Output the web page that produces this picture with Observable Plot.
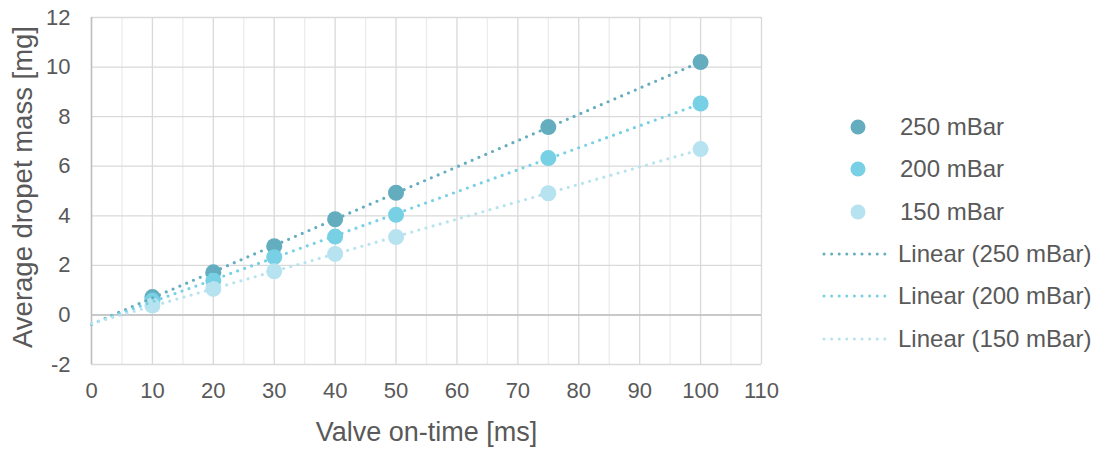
<!DOCTYPE html>
<html>
<head>
<meta charset="utf-8">
<script src="https://cdn.jsdelivr.net/npm/d3@7"></script>
<script src="https://cdn.jsdelivr.net/npm/@observablehq/plot@0.6"></script>
<style>
  html, body { margin: 0; padding: 0; background: #fff; }
  #wrap { position: relative; width: 1099px; height: 449px; font-family: "Liberation Sans", Arial, sans-serif; color: #595959; }
  #legend { position: absolute; left: 0; top: 0; width: 1099px; height: 449px; pointer-events: none; }
  .item { position: absolute; left: 818px; height: 30px; display: flex; align-items: center; font-size: 24px; white-space: nowrap; }
  .item svg { width: 80px; height: 30px; flex: none; }
</style>
</head>
<body>
<div id="wrap"><div id="legend"></div></div>
<script>
// ---- data ----
const onTimes = [10, 20, 30, 40, 50, 75, 100];
const series = ["250 mBar", "200 mBar", "150 mBar"];
const mass250 = [0.72, 1.72, 2.77, 3.86, 4.93, 7.58, 10.2];
const mass200 = [0.58, 1.39, 2.33, 3.16, 4.04, 6.33, 8.53];
const mass150 = [0.38, 1.05, 1.76, 2.46, 3.14, 4.91, 6.69];
const colors = ["#63adbf", "#78d0e5", "#b7e2ef"];
const xTicks = d3.range(0, 111, 10);
const yTicks = d3.range(-2, 13, 2);

const values = [mass250, mass200, mass150];
const points = [];
series.forEach((s, i) => onTimes.forEach((t, j) => points.push({series: s, t, m: values[i][j]})));

// least-squares trend lines (Excel "Linear" trendline), drawn from 0 to 100 ms
const trend = [];
series.forEach((s, i) => {
  const xs = onTimes, ys = values[i];
  const mx = d3.mean(xs), my = d3.mean(ys);
  const slope = d3.sum(xs, (x, k) => (x - mx) * (ys[k] - my)) / d3.sum(xs, x => (x - mx) ** 2);
  const icpt = my - slope * mx;
  [0, d3.max(xs)].forEach(x => trend.push({series: s, t: x, m: icpt + slope * x}));
});

const chart = Plot.plot({
  width: 1099,
  height: 449,
  marginLeft: 91,
  marginRight: 338,
  marginTop: 17,
  marginBottom: 85,
  style: {fontFamily: "'Liberation Sans', Arial, sans-serif", fontSize: "22px", color: "#595959", background: "#fff"},
  x: {domain: [0, 110]},
  y: {domain: [-2, 12]},
  color: {domain: series, range: colors},
  marks: [
    Plot.gridX(d3.range(5, 111, 10), {stroke: "#ececec", strokeOpacity: 1, strokeWidth: 1.3}),
    Plot.gridX(xTicks, {stroke: "#d9d9d9", strokeOpacity: 1, strokeWidth: 1.3}),
    Plot.gridY(yTicks, {stroke: "#d9d9d9", strokeOpacity: 1, strokeWidth: 1.3}),
    Plot.ruleY([0], {stroke: "#bfbfbf", strokeWidth: 1.5}),
    Plot.ruleX([0], {stroke: "#bfbfbf", strokeWidth: 1.5}),
    Plot.axisX(xTicks, {tickSize: 0, tickPadding: 18, fontSize: 22, label: null, fill: "#595959", tickFormat: d => String(d)}),
    Plot.axisY(yTicks, {tickSize: 0, tickPadding: 21, fontSize: 22, label: null, fill: "#595959", tickFormat: d => String(d)}),
    Plot.dot(points, {x: "t", y: "m", fill: "series", r: 8, stroke: "none"}),
    Plot.line(trend, {x: "t", y: "m", z: "series", stroke: "series", strokeWidth: 3.2, strokeDasharray: "0 7.4", strokeLinecap: "round"}),
    Plot.text(["Valve on-time [ms]"], {frameAnchor: "bottom", dy: 68, fontSize: 27, fill: "#595959", lineAnchor: "middle"}),
    Plot.text(["Average dropet mass [mg]"], {frameAnchor: "left", dx: -68, dy: -4, rotate: -90, textAnchor: "middle", lineAnchor: "middle", fontSize: 27.5, fill: "#595959"})
  ]
});
document.getElementById("wrap").prepend(chart);

// legend
const legend = document.getElementById("legend");
const rows = [
  ...series.map((s, i) => ({kind: "dot", label: s, color: colors[i]})),
  ...series.map((s, i) => ({kind: "line", label: `Linear (${s})`, color: colors[i]}))
];
rows.forEach((r, i) => {
  const div = document.createElement("div");
  div.className = "item";
  div.style.top = (112 + i * 42.3) + "px";
  const ns = "http://www.w3.org/2000/svg";
  const svg = document.createElementNS(ns, "svg");
  if (r.kind === "dot") {
    const c = document.createElementNS(ns, "circle");
    c.setAttribute("cx", 40); c.setAttribute("cy", 15); c.setAttribute("r", 7.5);
    c.setAttribute("fill", r.color);
    svg.appendChild(c);
  } else {
    const l = document.createElementNS(ns, "line");
    l.setAttribute("x1", 6); l.setAttribute("x2", 74); l.setAttribute("y1", 15); l.setAttribute("y2", 15);
    l.setAttribute("stroke", r.color); l.setAttribute("stroke-width", 3);
    l.setAttribute("stroke-dasharray", "0 7.6"); l.setAttribute("stroke-linecap", "round");
    svg.appendChild(l);
  }
  div.appendChild(svg);
  const span = document.createElement("span");
  span.textContent = r.label;
  span.style.marginLeft = r.kind === "dot" ? "2px" : "0px";
  div.appendChild(span);
  legend.appendChild(div);
});
</script>
</body>
</html>
